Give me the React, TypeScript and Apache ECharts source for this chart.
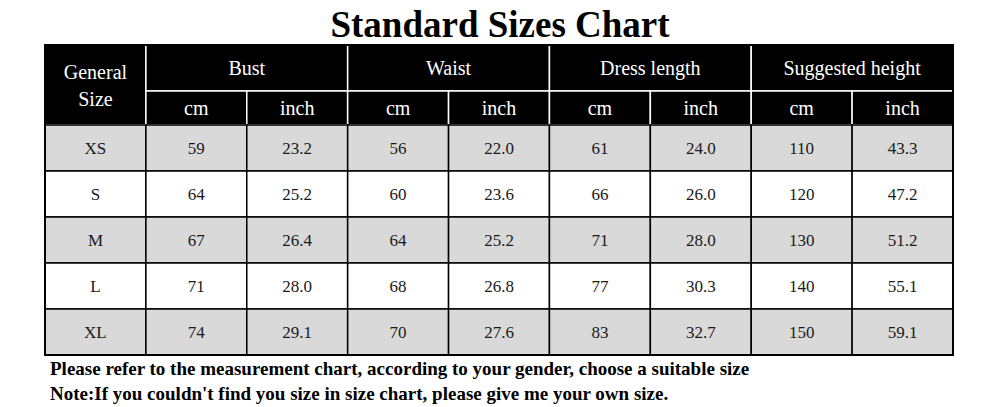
import React, { useEffect, useRef } from "react";
import * as echarts from "echarts";

const titleText = "Standard Sizes Chart";
const sizes = ["XS", "S", "M", "L", "XL"];
const groups = ["Bust", "Waist", "Dress length", "Suggested height"];
const units = ["cm", "inch"];
const bustCm = ["59", "64", "67", "71", "74"];
const bustInch = ["23.2", "25.2", "26.4", "28.0", "29.1"];
const waistCm = ["56", "60", "64", "68", "70"];
const waistInch = ["22.0", "23.6", "25.2", "26.8", "27.6"];
const dressCm = ["61", "66", "71", "77", "83"];
const dressInch = ["24.0", "26.0", "28.0", "30.3", "32.7"];
const heightCm = ["110", "120", "130", "140", "150"];
const heightInch = ["43.3", "47.2", "51.2", "55.1", "59.1"];
const notes = [
  "Please refer to the measurement chart, according to your gender, choose a suitable size",
  "Note:If you couldn't find you size in size chart, please give me your own size.",
];

const SERIF = '"Liberation Serif", "Times New Roman", "DejaVu Serif", serif';

type Cell = {
  x0: number;
  x1: number;
  r0: number;
  r1: number;
  text: string;
  header: boolean;
  gray?: boolean;
};

export default function App() {
  const ref = useRef<HTMLDivElement>(null);

  useEffect(() => {
    if (!ref.current) return;
    const chart = echarts.init(ref.current, null, { renderer: "svg" });

    // row edges on the y value axis (header row 1, header row 2, five body rows)
    const rowEdges = [0, 46, 80, 126, 172, 218, 264, 310];

    const cells: Cell[] = [];
    cells.push({ x0: 0, x1: 1, r0: 0, r1: 2, text: "General\nSize", header: true });
    groups.forEach((g, i) => {
      cells.push({ x0: 1 + i * 2, x1: 3 + i * 2, r0: 0, r1: 1, text: g, header: true });
      units.forEach((u, j) => {
        cells.push({ x0: 1 + i * 2 + j, x1: 2 + i * 2 + j, r0: 1, r1: 2, text: u, header: true });
      });
    });
    const cols = [sizes, bustCm, bustInch, waistCm, waistInch, dressCm, dressInch, heightCm, heightInch];
    sizes.forEach((_, r) => {
      cols.forEach((col, c) => {
        cells.push({ x0: c, x1: c + 1, r0: r + 2, r1: r + 3, text: col[r], header: false, gray: r % 2 === 0 });
      });
    });

    const data = cells.map((c) => [c.x0, c.x1, rowEdges[c.r0], rowEdges[c.r1]]);

    const option: any = {
      animation: false,
      backgroundColor: "#ffffff",
      title: {
        text: titleText,
        left: "center",
        top: 1,
        textStyle: {
          fontFamily: SERIF,
          fontWeight: "bold",
          fontSize: 37,
          color: "#000",
        },
      },
      grid: { left: 45, top: 45, width: 908, height: 310 },
      xAxis: { type: "value", min: 0, max: 9, show: false },
      yAxis: { type: "value", min: 0, max: 310, inverse: true, show: false },
      series: [
        {
          type: "custom",
          coordinateSystem: "cartesian2d",
          data,
          encode: { x: [0, 1], y: [2, 3] },
          renderItem: (params: any, api: any) => {
            const c = cells[params.dataIndex];
            const p0 = api.coord([api.value(0), api.value(2)]);
            const p1 = api.coord([api.value(1), api.value(3)]);
            const w = p1[0] - p0[0];
            const h = p1[1] - p0[1];
            const fill = c.header ? "#000000" : c.gray ? "#d9d9d9" : "#ffffff";
            const stroke = c.header ? "#ffffff" : "#000000";
            return {
              type: "group",
              children: [
                {
                  type: "rect",
                  shape: { x: p0[0], y: p0[1], width: w, height: h },
                  style: { fill, stroke, lineWidth: 1.5 },
                },
                {
                  type: "text",
                  style: {
                    text: c.text,
                    x: p0[0] + w / 2,
                    y: p0[1] + h / 2 + (c.header ? 0 : 0.5),
                    align: "center",
                    verticalAlign: "middle",
                    fill: c.header ? "#ffffff" : "#1a1a1a",
                    fontFamily: SERIF,
                    fontSize: c.header ? 20 : 17,
                    lineHeight: 27,
                  },
                },
              ],
            };
          },
          z: 2,
        },
        {
          type: "custom",
          coordinateSystem: "cartesian2d",
          data: [[0, 9, 0, 310]],
          encode: { x: [0, 1], y: [2, 3] },
          renderItem: (_params: any, api: any) => {
            const p0 = api.coord([api.value(0), api.value(2)]);
            const p1 = api.coord([api.value(1), api.value(3)]);
            return {
              type: "rect",
              shape: { x: p0[0], y: p0[1], width: p1[0] - p0[0], height: p1[1] - p0[1] },
              style: { fill: "none", stroke: "#000000", lineWidth: 2 },
            };
          },
          z: 3,
          silent: true,
        },
      ],
      graphic: notes.map((t, i) => ({
        type: "text",
        left: 50,
        top: 359 + i * 25,
        style: {
          text: t,
          fill: "#000",
          font: `bold 19px ${SERIF}`,
        },
      })),
    };

    chart.setOption(option);
    return () => chart.dispose();
  }, []);

  return (
    <div
      ref={ref}
      style={{ position: "fixed", left: 0, top: 0, width: 1000, height: 407 }}
    />
  );
}
